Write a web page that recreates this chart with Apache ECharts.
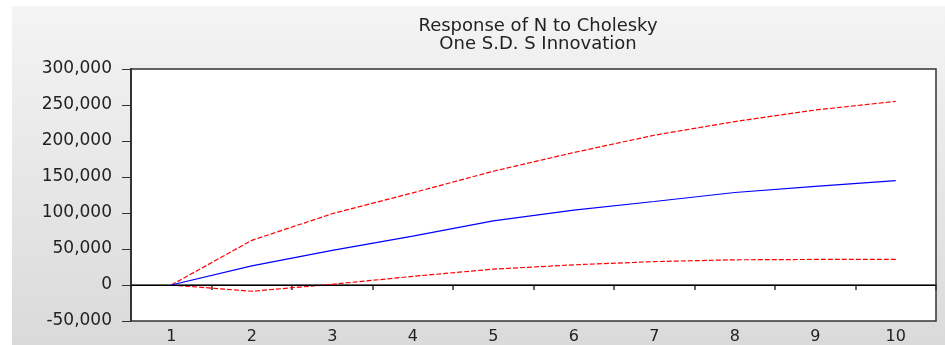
<!DOCTYPE html>
<html>
<head>
<meta charset="utf-8">
<script src="https://cdn.jsdelivr.net/npm/echarts@6/dist/echarts.min.js"></script>
<style>
html,body{margin:0;padding:0;background:#fff;}
#chart{width:945px;height:345px;}
</style>
</head>
<body>
<div id="chart"></div>
<script>
const titleLines = ['Response of N to Cholesky', 'One S.D. S Innovation'];
const periods = ['1','2','3','4','5','6','7','8','9','10'];
const response = [0, 26500, 48000, 68000, 89000, 104000, 116000, 128500, 137000, 145000];
const upperBand = [0, 62000, 99000, 128000, 158000, 184000, 208000, 227000, 243000, 255000];
const lowerBand = [0, -8700, 1000, 12000, 22000, 28000, 32500, 35000, 35500, 35500];
const yMin = -50000, yMax = 300000, yStep = 50000;

const chart = echarts.init(document.getElementById('chart'), null, {renderer: 'canvas'});
const font = 'DejaVu Sans';
chart.setOption({
  animation: false,
  graphic: [{
    type: 'rect', z: -10, silent: true,
    shape: {x: 12, y: 6, width: 933, height: 339},
    style: {fill: new echarts.graphic.LinearGradient(0, 0, 0, 1, [
      {offset: 0, color: '#f4f4f4'}, {offset: 1, color: '#dadada'}
    ])}
  }],
  title: {
    text: titleLines.join('\n'),
    left: 533, top: 12, textAlign: 'center',
    textStyle: {fontFamily: font, fontSize: 18, fontWeight: 'normal', color: '#222', lineHeight: 18}
  },
  grid: {
    left: 131, top: 69, right: 9, bottom: 22,
    show: true, backgroundColor: '#fff', borderColor: '#333', borderWidth: 1.5
  },
  xAxis: {
    type: 'category', data: periods, boundaryGap: true,
    axisLine: {show: true, lineStyle: {color: '#333', width: 1.5}},
    axisTick: {show: true, inside: false, length: 5, lineStyle: {color: '#333', width: 1.5}},
    axisLabel: {margin: 8, fontFamily: font, fontSize: 16, color: '#222'},
    splitLine: {show: false}
  },
  yAxis: {
    type: 'value', min: yMin, max: yMax, interval: yStep,
    axisLine: {show: true, lineStyle: {color: '#333', width: 2}},
    axisTick: {show: true, inside: false, length: 9, lineStyle: {color: '#333', width: 1}},
    axisLabel: {margin: 19, fontFamily: font, fontSize: 17, color: '#222',
      formatter: v => v.toLocaleString('en-US')},
    splitLine: {show: false}
  },
  series: [
    {
      name: 'Upper', type: 'line', data: upperBand, symbol: 'none', smooth: false,
      lineStyle: {color: '#ff0000', width: 1.2, type: [5, 2]}, z: 3
    },
    {
      name: 'Lower', type: 'line', data: lowerBand, symbol: 'none', smooth: false,
      lineStyle: {color: '#ff0000', width: 1.2, type: [5, 2]}, z: 3
    },
    {
      name: 'Response', type: 'line', data: response, symbol: 'none', smooth: false,
      lineStyle: {color: '#0000ff', width: 1.2}, z: 4,
      markLine: {
        silent: true, symbol: 'none', label: {show: false},
        lineStyle: {color: '#000', width: 1, type: 'solid'},
        data: [{yAxis: 0}]
      }
    }
  ]
});
</script>
</body>
</html>
